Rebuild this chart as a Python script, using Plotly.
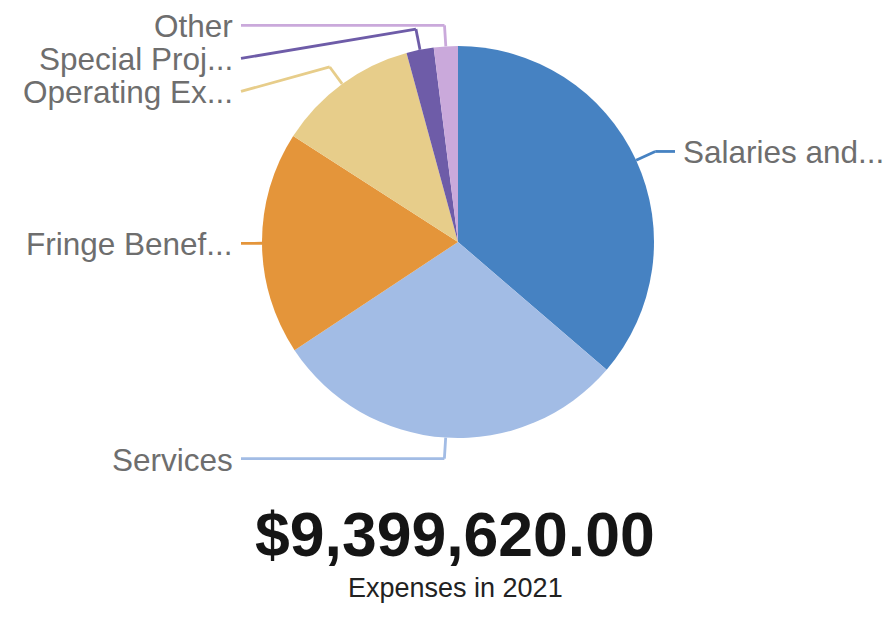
import math
import plotly.graph_objects as go

# expense categories for 2021
categories = ["Salaries and Wages", "Services", "Fringe Benefits",
              "Operating Expenses", "Special Projects", "Other"]
short_labels = ["Salaries and...", "Services", "Fringe Benef...",
                "Operating Ex...", "Special Proj...", "Other"]
amounts = [3412000, 2763500, 1729500, 1097000, 211500, 186120]
colors = ["#4682c2", "#a2bce5", "#e4953a", "#e7cd8a", "#6e5ca8", "#caa9db"]

subtitle = "Expenses in 2021"

# page has an 8px body margin, so the figure is drawn 8px in from the corner
OFF = 8
W, H = 896 - 2 * OFF, 620 - 2 * OFF
# pie geometry in screen pixels
cx, cy, r = 458, 242, 196
len1 = 21          # first leader segment
left_col, right_col = 241, 675
label_gap = 6
min_spacing = 33

total = sum(amounts)


def px_x(x):
    return (x - OFF) / W


def px_y(y):
    return 1 - (y - OFF) / H


fig = go.Figure()
fig.add_trace(go.Pie(
    labels=categories, values=amounts, sort=False, direction="clockwise",
    rotation=0, marker=dict(colors=colors, line=dict(width=0)),
    textinfo="none", hoverinfo="label+value+percent", showlegend=False,
    domain=dict(x=[px_x(cx - r), px_x(cx + r)], y=[px_y(cy + r), px_y(cy - r)]),
))

# leader lines + labels, derived from the slice angles
start = 0.0
items = []
for name, val, col in zip(short_labels, amounts, colors):
    frac = val / total
    mid = (start + frac / 2) * 2 * math.pi
    start += frac
    dx, dy = math.sin(mid), -math.cos(mid)
    p0 = (cx + r * dx, cy + r * dy)
    p1 = (cx + (r + len1) * dx, cy + (r + len1) * dy)
    items.append(dict(name=name, col=col, p0=p0, p1=p1, right=dx > 0))

# simple overlap avoidance per side
for side in (True, False):
    grp = sorted([it for it in items if it["right"] == side], key=lambda it: it["p1"][1])
    last = -1e9
    for it in grp:
        y = max(it["p1"][1], last + min_spacing)
        it["ly"] = y
        last = y

shapes = []
annotations = []
for it in items:
    xend = right_col if it["right"] else left_col
    pts = [it["p0"], it["p1"], (xend, it["ly"])]
    for a, b in zip(pts[:-1], pts[1:]):
        shapes.append(dict(type="line", xref="paper", yref="paper",
                           x0=px_x(a[0]), y0=px_y(a[1]), x1=px_x(b[0]), y1=px_y(b[1]),
                           line=dict(color=it["col"], width=2.8)))
    annotations.append(dict(
        x=px_x(xend + label_gap if it["right"] else xend - label_gap),
        y=px_y(it["ly"] + 1), xref="paper", yref="paper",
        xanchor="left" if it["right"] else "right", yanchor="middle",
        text=it["name"], showarrow=False,
        font=dict(family="Liberation Sans, Arial", size=31.5, color="#6e6e6e"),
    ))

annotations.append(dict(
    x=px_x(455), y=px_y(534), xref="paper", yref="paper",
    xanchor="center", yanchor="middle", showarrow=False,
    text=f"<b>${total:,.2f}</b>",
    font=dict(family="Liberation Sans, Arial", size=62.5, color="#151515"),
))
annotations.append(dict(
    x=px_x(456), y=px_y(588), xref="paper", yref="paper",
    xanchor="center", yanchor="middle", showarrow=False,
    text=subtitle,
    font=dict(family="Liberation Sans, Arial", size=27, color="#222222"),
))

fig.update_layout(
    width=W, height=H, margin=dict(l=0, r=0, t=0, b=0),
    paper_bgcolor="white", plot_bgcolor="white",
    shapes=shapes, annotations=annotations,
)

fig.write_html("out.html")
